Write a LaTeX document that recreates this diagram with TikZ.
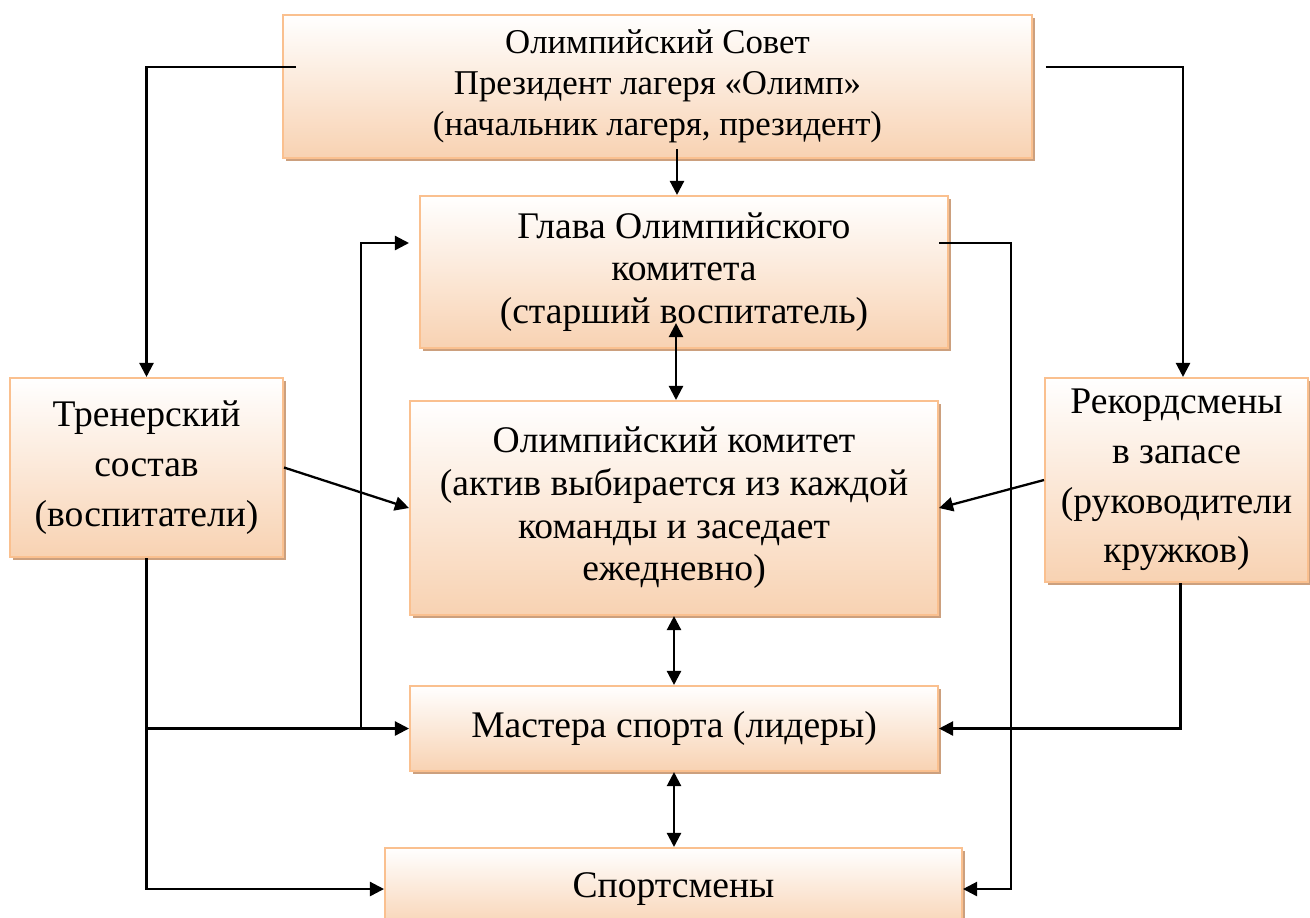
\documentclass[tikz,border=0pt]{standalone}
\usepackage{fontspec}
\setmainfont{Liberation Serif}
\usetikzlibrary{arrows.meta, calc, shadows}

\definecolor{boxline}{RGB}{250,192,143}
\definecolor{boxfill}{RGB}{248,210,178}
\definecolor{boxshadow}{RGB}{204,160,126}

\tikzset{
    unit/.style={draw=boxline, line width=1.2pt, top color=white, bottom color=boxfill,
        align=center, inner sep=0pt, font=\fontsize{21.4}{24.3}\selectfont,
        drop shadow={shadow xshift=1.8pt, shadow yshift=-1.8pt, fill=boxshadow, opacity=1}},
    small/.style={font=\fontsize{19.8}{23.3}\selectfont},
    wide/.style={font=\fontsize{21.4}{28.3}\selectfont},
    link/.style={line width=1.3pt, -{Triangle[length=8pt,width=8pt]}},
    both/.style={line width=1.3pt, {Triangle[length=8pt,width=8pt]}-{Triangle[length=8pt,width=8pt]}}
}

\begin{document}
\begin{tikzpicture}[x=0.02cm, y=-0.02cm]
    \useasboundingbox (0,0) rectangle (1310,917);

    \node [unit, small, minimum width=14.98cm, minimum height=2.86cm] (council) at (657.5,86.5)
        {Олимпийский Совет\\Президент лагеря «Олимп»\\(начальник лагеря, президент)};
    \node [unit, minimum width=10.56cm, minimum height=3.04cm] (head) at (684,272)
        {Глава Олимпийского\\комитета\\(старший воспитатель)};
    \node [unit, wide, minimum width=5.46cm, minimum height=3.58cm] (trainers) at (146.5,467.5)
        {Тренерский\\состав\\(воспитатели)};
    \node [unit, wide, minimum width=5.26cm, minimum height=4.08cm] (reserve) at (1176.5,480)
        {Рекордсмены\\в запасе\\(руководители\\кружков)};
    \node [unit, minimum width=10.56cm, minimum height=4.28cm] (committee) at (674,508)
        {Олимпийский комитет\\(актив выбирается из каждой\\команды и заседает\\ежедневно)};
    \node [unit, minimum width=10.56cm, minimum height=1.7cm] (masters) at (674,728.5)
        {Мастера спорта (лидеры)};
    \node [unit, minimum width=11.54cm, minimum height=1.64cm] (athletes) at (673.5,889)
        {Спортсмены};

    % from the council
    \draw [link] ($(council.west)+(14,-19.5)$) -| (trainers.north);
    \draw [link] ($(council.east)+(13,-19.5)$) -| ($(reserve.north)+(6.5,0)$);
    \draw [link] ($(head.north |- council.south)+(-7,-10)$) -- ($(head.north)+(-7,0)$);

    % centre column
    \draw [both] ($(committee.north |- head.south)+(2,-26)$) -- ($(committee.north)+(2,0)$);
    \draw [both] (committee.south) -- (masters.north);
    \draw [both] (masters.south) -- (masters.south |- athletes.north);

    % side boxes
    \draw [link] (trainers.east) -- (committee.west);
    \draw [link] (reserve.west) -- (committee.east);
    \draw [link] (trainers.south) |- (athletes.west);
    \draw [link] (trainers.south |- masters.west) -- (masters.west);
    \draw [link] ($(masters.west)+(-48,0)$) |- ($(head.west)+(-10,-29)$);
    \draw [link] ($(head.east)+(-10,-29)$) -| ($(athletes.east)+(48,0)$) -- (athletes.east);
    \draw [link] ($(reserve.south)+(4,0)$) |- (masters.east);
\end{tikzpicture}
\end{document}
